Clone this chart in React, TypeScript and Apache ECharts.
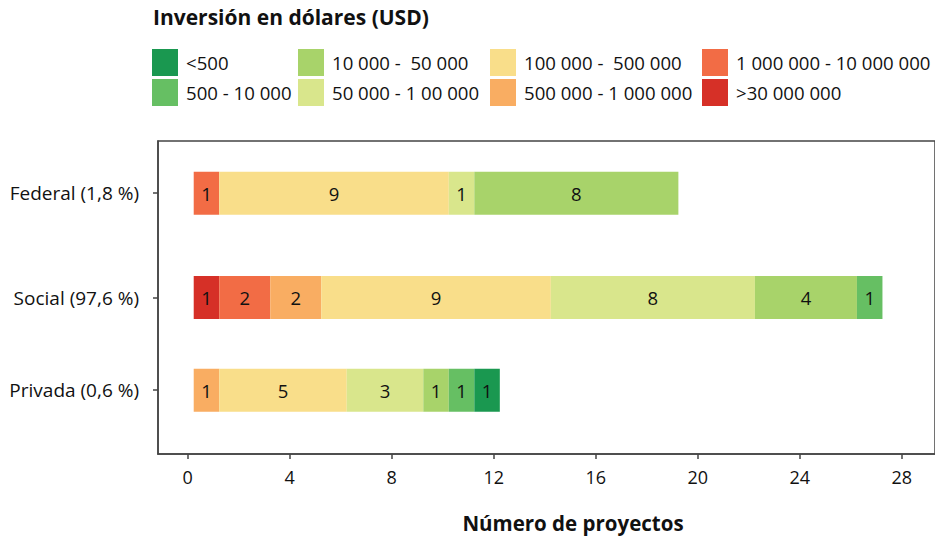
import React, { useEffect, useRef } from "react";
import * as echarts from "echarts";

// ---- data ----
const groups = ["Federal (1,8 %)", "Social (97,6 %)", "Privada (0,6 %)"];
// slot index of each group on a 27-slot band axis (reproduces the uneven spacing)
const groupSlots = [4, 13, 21];
const slotCount = 27;

// bins in stacking order (left to right)
const bins = [
  ">30 000 000",
  "1 000 000 - 10 000 000",
  "500 000 - 1 000 000",
  "100 000 -  500 000",
  "50 000 - 1 00 000",
  "10 000 -  50 000",
  "500 - 10 000",
  "<500",
];
const binColors = [
  "#d63027",
  "#f26c45",
  "#f9ad62",
  "#f9de8a",
  "#d9e68c",
  "#a8d36a",
  "#66bf63",
  "#1a9850",
];
// values per bin: [Federal, Social, Privada]
const v_gt30M = [0, 1, 0];
const v_1M_10M = [1, 2, 0];
const v_500k_1M = [0, 2, 1];
const v_100k_500k = [9, 9, 5];
const v_50k_100k = [1, 8, 3];
const v_10k_50k = [8, 4, 1];
const v_500_10k = [0, 1, 1];
const v_lt500 = [0, 0, 1];
const binValues = [v_gt30M, v_1M_10M, v_500k_1M, v_100k_500k, v_50k_100k, v_10k_50k, v_500_10k, v_lt500];
// small start offset of the bars from zero, as in the source
const barStart = [0.24, 0.24, 0.24];

const xTicks = [0, 4, 8, 12, 16, 20, 24, 28];

// legend columns (column-major as in the source)
const legendColumns = [
  ["<500", "500 - 10 000"],
  ["10 000 -  50 000", "50 000 - 1 00 000"],
  ["100 000 -  500 000", "500 000 - 1 000 000"],
  ["1 000 000 - 10 000 000", ">30 000 000"],
];

const FONT = "'Open Sans', 'Noto Sans', sans-serif";

function toSlots(vals: number[]) {
  const arr: (number | string)[] = new Array(slotCount).fill("-");
  groupSlots.forEach((s, i) => {
    arr[s] = vals[i] > 0 ? vals[i] : "-";
  });
  return arr;
}

export default function App() {
  const ref = useRef<HTMLDivElement>(null);
  useEffect(() => {
    if (!ref.current) return;
    const chart = echarts.init(ref.current, null, { renderer: "svg" });
    const cats: string[] = new Array(slotCount).fill("");
    groupSlots.forEach((s, i) => (cats[s] = groups[i]));

    const series: any[] = [
      {
        name: "__offset",
        type: "bar",
        stack: "t",
        barWidth: 43,
        silent: true,
        itemStyle: { color: "rgba(0,0,0,0)" },
        data: toSlots(barStart),
      },
      ...bins.map((b, i) => ({
        name: b,
        type: "bar",
        stack: "t",
        barWidth: 43,
        itemStyle: { color: binColors[i] },
        label: {
          show: true,
          position: "inside",
          color: "#111",
          fontFamily: FONT,
          fontSize: 18.5,
          formatter: (p: any) => String(p.value),
        },
        data: toSlots(binValues[i]),
      })),
    ];

    const legendLefts = [152, 298, 490, 702];
    const legends = legendColumns.map((col, i) => ({
      orient: "vertical",
      left: legendLefts[i],
      top: 49,
      padding: 0,
      itemWidth: 26,
      itemHeight: 27,
      itemGap: 3,
      icon: "rect",
      selectedMode: false,
      data: col,
      textStyle: {
        fontFamily: FONT,
        fontSize: 18.6,
        color: "#111",
        padding: [0, 0, 0, 3],
      },
    }));

    chart.setOption({
      animation: false,
      textStyle: { fontFamily: FONT },
      legend: legends,
      grid: {
        left: 158,
        top: 141,
        right: -3,
        bottom: 85,
        show: true,
        borderColor: "#444",
        borderWidth: 1.5,
        containLabel: false,
      },
      xAxis: {
        type: "value",
        min: -1.16,
        max: 29.3,
        splitLine: { show: false },
        axisLine: { show: true, lineStyle: { color: "#444", width: 1.5 } },
        axisTick: {
          show: true,
          length: 5,
          customValues: xTicks,
          lineStyle: { color: "#444", width: 1.5 },
        },
        axisLabel: {
          customValues: xTicks,
          fontFamily: FONT,
          fontSize: 18,
          color: "#111",
          margin: 14,
        },
      },
      yAxis: {
        type: "category",
        inverse: true,
        data: cats,
        axisLine: { show: true, onZero: false, lineStyle: { color: "#444", width: 1.5 } },
        axisTick: {
          show: true,
          length: 5,
          alignWithLabel: true,
          interval: (idx: number) => groupSlots.indexOf(idx) >= 0,
          lineStyle: { color: "#444", width: 1.5 },
        },
        axisLabel: {
          interval: 0,
          fontFamily: FONT,
          fontSize: 19,
          color: "#111",
          margin: 19,
        },
      },
      graphic: [
        {
          type: "text",
          left: 153,
          top: 6,
          style: {
            text: "Inversión en dólares (USD)",
            font: `bold 21px ${FONT}`,
            fill: "#111",
          },
        },
        {
          type: "text",
          x: 573,
          y: 523,
          style: {
            text: "Número de proyectos",
            font: `bold 20.5px ${FONT}`,
            fill: "#111",
            textAlign: "center",
            textVerticalAlign: "middle",
          },
        },
      ],
      series,
    });
    return () => chart.dispose();
  }, []);
  return (
    <div
      ref={ref}
      style={{ position: "absolute", left: 0, top: 0, width: 935, height: 539 }}
    />
  );
}
